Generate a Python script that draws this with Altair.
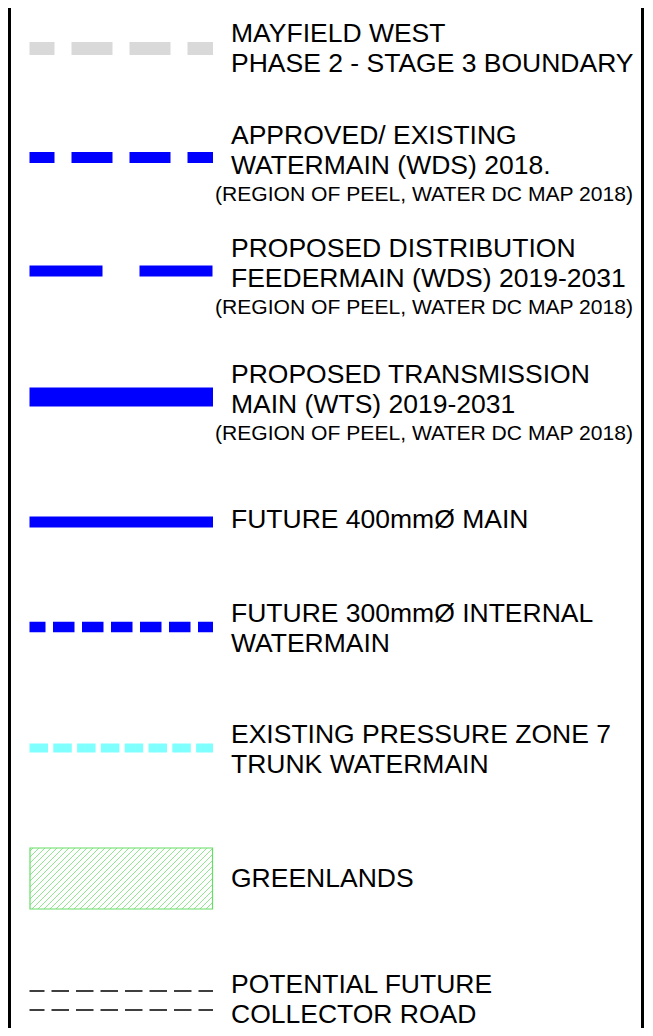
import altair as alt
import pandas as pd

# ---------------- data: legend entries ----------------
item_kinds = [
    "boundary", "existing_wds", "distribution_wds", "transmission_wts",
    "future_400", "future_300", "pz7_trunk", "greenlands", "collector_road",
]
item_titles = [
    ["MAYFIELD WEST", "PHASE 2 - STAGE 3 BOUNDARY"],
    ["APPROVED/ EXISTING", "WATERMAIN (WDS) 2018."],
    ["PROPOSED DISTRIBUTION", "FEEDERMAIN (WDS) 2019-2031"],
    ["PROPOSED TRANSMISSION", "MAIN (WTS) 2019-2031"],
    ["FUTURE 400mmØ MAIN"],
    ["FUTURE 300mmØ INTERNAL", "WATERMAIN"],
    ["EXISTING PRESSURE ZONE 7", "TRUNK WATERMAIN"],
    ["GREENLANDS"],
    ["POTENTIAL FUTURE", "COLLECTOR ROAD"],
]
item_sources = [
    "",
    "(REGION OF PEEL, WATER DC MAP 2018)",
    "(REGION OF PEEL, WATER DC MAP 2018)",
    "(REGION OF PEEL, WATER DC MAP 2018)",
    "", "", "", "", "",
]

# ---------------- layout (design units) ----------------
DOMAIN_X = [8, 645]
DOMAIN_Y = [8, 1028]
W, H = 637, 1020
symbol_y = [48.5, 157.5, 271, 397, 522, 627, 748, 878.5, 1000]
first_baseline = [42, 144, 257, 383, 528, 622, 743, 887, 992.5]
LINE_GAP = 30.2
SOURCE_GAP = 57
SYM_X0, SYM_X1 = 29.5, 213
TEXT_X, SOURCE_X = 231, 215
FONT = "Liberation Sans"
TITLE_SIZE, SOURCE_SIZE = 26.5, 21.1

line_styles = {
    "boundary": dict(color="#d9d9d9", strokeWidth=13, strokeDash=[41, 17], strokeDashOffset=16),
    "existing_wds": dict(color="#0000ff", strokeWidth=11, strokeDash=[41, 17], strokeDashOffset=16),
    "distribution_wds": dict(color="#0000ff", strokeWidth=11, strokeDash=[73, 37], strokeDashOffset=0),
    "transmission_wts": dict(color="#0000ff", strokeWidth=19),
    "future_400": dict(color="#0000ff", strokeWidth=11),
    "future_300": dict(color="#0000ff", strokeWidth=10.5, strokeDash=[21.5, 7.5], strokeDashOffset=5.5),
    "pz7_trunk": dict(color="#80ffff", strokeWidth=9, strokeDash=[18.5, 5.3], strokeDashOffset=0),
}
ROAD_STYLE = dict(color="#000000", strokeWidth=1.5, strokeDash=[17.5, 7], strokeDashOffset=2.5)
ROAD_OFFSETS = [-9, 10]
GREEN_HALF_H = 30.5
GREEN_EDGE = "#66dd66"
GREEN_HATCH = "#8ee88e"
HATCH_STEP = 6

xs = alt.Scale(domain=DOMAIN_X, nice=False, zero=False)
ys = alt.Scale(domain=DOMAIN_Y, nice=False, zero=False, reverse=True)


def X(f):
    return alt.X(f"{f}:Q", scale=xs, axis=None)


def Y(f):
    return alt.Y(f"{f}:Q", scale=ys, axis=None)


layers = []

# frame borders
frame = pd.DataFrame({"x": [9.5, 642.5], "y": [DOMAIN_Y[0]] * 2, "y2": [DOMAIN_Y[1]] * 2})
layers.append(
    alt.Chart(frame).mark_rule(color="#000000", strokeWidth=3)
    .encode(x=X("x"), y=Y("y"), y2=alt.Y2("y2"))
)

# line symbols
for kind, yc in zip(item_kinds, symbol_y):
    if kind in line_styles:
        df = pd.DataFrame({"x": [SYM_X0], "x2": [SYM_X1], "y": [yc], "kind": [kind]})
        layers.append(
            alt.Chart(df).mark_rule(**line_styles[kind])
            .encode(x=X("x"), x2=alt.X2("x2"), y=Y("y"))
        )
    elif kind == "collector_road":
        df = pd.DataFrame({
            "x": [SYM_X0] * len(ROAD_OFFSETS),
            "x2": [SYM_X1] * len(ROAD_OFFSETS),
            "y": [yc + o for o in ROAD_OFFSETS],
        })
        layers.append(
            alt.Chart(df).mark_rule(**ROAD_STYLE)
            .encode(x=X("x"), x2=alt.X2("x2"), y=Y("y"))
        )
    elif kind == "greenlands":
        x0, x1 = SYM_X0 + 0.5, SYM_X1 - 0.5
        y0, y1 = yc - GREEN_HALF_H, yc + GREEN_HALF_H
        segs = []
        c = x0 + y0 + HATCH_STEP / 2
        while c < x1 + y1:
            xa = max(x0, c - y1)
            xb = min(x1, c - y0)
            if xb > xa:
                segs.append({"x": xa, "y": c - xa, "x2": xb, "y2": c - xb})
            c += HATCH_STEP
        layers.append(
            alt.Chart(pd.DataFrame(segs)).mark_rule(color=GREEN_HATCH, strokeWidth=1)
            .encode(x=X("x"), y=Y("y"), x2=alt.X2("x2"), y2=alt.Y2("y2"))
        )
        box = pd.DataFrame({"x": [x0], "x2": [x1], "y": [y0], "y2": [y1]})
        layers.append(
            alt.Chart(box).mark_rect(fill=None, fillOpacity=0, stroke=GREEN_EDGE, strokeWidth=1.2)
            .encode(x=X("x"), x2=alt.X2("x2"), y=Y("y"), y2=alt.Y2("y2"))
        )

# labels
title_rows, source_rows = [], []
for lines, src, base in zip(item_titles, item_sources, first_baseline):
    for i, t in enumerate(lines):
        title_rows.append({"text": t, "x": TEXT_X, "y": base + i * LINE_GAP})
    if src:
        source_rows.append({"text": src, "x": SOURCE_X, "y": base + SOURCE_GAP})

layers.append(
    alt.Chart(pd.DataFrame(title_rows))
    .mark_text(align="left", baseline="alphabetic", font=FONT, fontSize=TITLE_SIZE, color="#000000")
    .encode(x=X("x"), y=Y("y"), text="text:N")
)
layers.append(
    alt.Chart(pd.DataFrame(source_rows))
    .mark_text(align="left", baseline="alphabetic", font=FONT, fontSize=SOURCE_SIZE, color="#000000")
    .encode(x=X("x"), y=Y("y"), text="text:N")
)

chart = (
    alt.layer(*layers)
    .properties(width=W, height=H, padding=0, autosize=alt.AutoSizeParams(type="none"),
                background="#ffffff")
    .configure_view(strokeWidth=0)
)

chart.save("out.html", embed_options={"renderer": "svg", "actions": False})
